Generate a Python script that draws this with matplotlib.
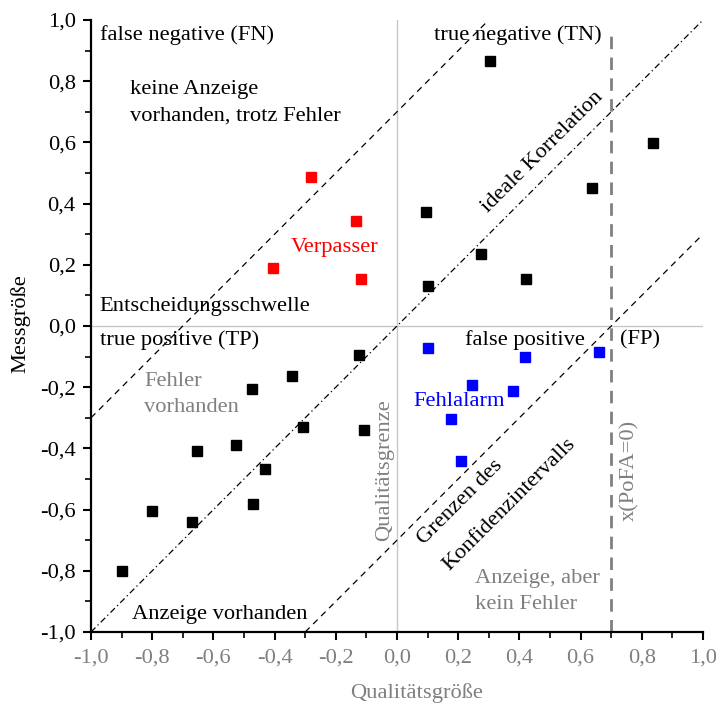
import matplotlib
matplotlib.use("Agg")
import matplotlib.pyplot as plt
import numpy as np
from matplotlib.ticker import MultipleLocator, FuncFormatter

plt.rcParams['font.family'] = ['Liberation Serif', 'DejaVu Serif']

# Data
black_x = [0.304, 0.837, 0.637, 0.095, 0.274, 0.422, 0.100, -0.124, -0.343, -0.474,
           -0.108, -0.307, -0.526, -0.654, -0.431, -0.471, -0.801, -0.670, -0.899]
black_y = [0.866, 0.598, 0.451, 0.373, 0.235, 0.154, 0.131, -0.095, -0.163, -0.206,
           -0.340, -0.330, -0.389, -0.408, -0.467, -0.582, -0.605, -0.641, -0.800]
red_x = [-0.281, -0.134, -0.405, -0.118]
red_y = [0.487, 0.343, 0.190, 0.154]
blue_x = [0.101, 0.418, 0.660, 0.245, 0.379, 0.177, 0.209]
blue_y = [-0.072, -0.101, -0.085, -0.193, -0.212, -0.304, -0.441]

conf_offset = 0.7
pofa_x = 0.7

fig = plt.figure(figsize=(7.18, 7.06), dpi=100)
ax = fig.add_axes([91/718, (706-632)/706, 612/718, 612/706])
ax.set_xlim(-1, 1)
ax.set_ylim(-1, 1)

gray = '#808080'
lgray = '#c8c8c8'

# reference lines
ax.plot([-1, 1], [0, 0], color=lgray, lw=1.0, zorder=1)
ax.plot([0, 0], [-1, 1], color=lgray, lw=1.0, zorder=1)
ax.plot([-1, 1], [-1, 1], color='black', lw=0.9, dashes=(5, 2.5, 1, 2.5), zorder=2)
ax.plot([-1, 1 - conf_offset], [-1 + conf_offset, 1], color='black', lw=0.9, dashes=(5, 4), zorder=2)
ax.plot([-1 + conf_offset, 1], [-1, 1 - conf_offset], color='black', lw=0.9, dashes=(5, 4), zorder=2)
ax.plot([pofa_x, pofa_x], [-1, 0.967], color=gray, lw=2.0, dashes=(4.5, 3), zorder=2)

ms = 7.4
ax.plot(black_x, black_y, 's', color='black', ms=ms, zorder=3, clip_on=False)
ax.plot(red_x, red_y, 's', color='#ff0000', ms=ms, zorder=3)
ax.plot(blue_x, blue_y, 's', color='#0000ff', ms=ms, zorder=3)

fs = 16.2
ls = 1.5
ax.text(-0.971, 0.951, 'false negative (FN)', fontsize=fs, ha='left', va='center')
ax.text(0.121, 0.951, 'true negative (TN)', fontsize=fs, ha='left', va='center')
ax.text(-0.873, 0.729, 'keine Anzeige\nvorhanden, trotz Fehler', fontsize=fs, ha='left', va='center', linespacing=ls)
ax.text(0.477, 0.569, 'ideale Korrelation', fontsize=fs, ha='center', va='center', rotation=45, rotation_mode='anchor')
ax.text(-0.346, 0.255, 'Verpasser', fontsize=fs, ha='left', va='center', color='#ff0000')
ax.text(-0.971, 0.065, 'Entscheidungsschwelle', fontsize=fs, ha='left', va='center')
ax.text(-0.971, -0.046, 'true positive (TP)', fontsize=fs, ha='left', va='center')
ax.text(0.222, -0.046, 'false positive', fontsize=fs, ha='left', va='center')
ax.text(0.729, -0.046, '(FP)', fontsize=fs, ha='left', va='center')
ax.text(-0.827, -0.225, 'Fehler\nvorhanden', fontsize=fs, ha='left', va='center', color=gray, linespacing=ls)
ax.text(0.052, -0.248, 'Fehlalarm', fontsize=fs, ha='left', va='center', color='#0000ff')
ax.text(-0.039, -0.471, 'Qualitätsgrenze', fontsize=fs, ha='center', va='center', rotation=90, color=gray)
ax.text(0.206, -0.575, 'Grenzen des', fontsize=fs, ha='center', va='center', rotation=45, rotation_mode='anchor')
ax.text(0.369, -0.582, 'Konfidenzintervalls', fontsize=fs, ha='center', va='center', rotation=45, rotation_mode='anchor')
ax.text(0.761, -0.471, 'x(PoFA=0)', fontsize=fs, ha='center', va='center', rotation=90, color=gray)
ax.text(0.255, -0.869, 'Anzeige, aber\nkein Fehler', fontsize=fs, ha='left', va='center', color=gray, linespacing=ls)
ax.text(-0.866, -0.944, 'Anzeige vorhanden', fontsize=fs, ha='left', va='center')

# spines
for s in ['top', 'right']:
    ax.spines[s].set_visible(False)
for s in ['left', 'bottom']:
    ax.spines[s].set_linewidth(1.6)

ax.xaxis.set_major_locator(MultipleLocator(0.2))
ax.xaxis.set_minor_locator(MultipleLocator(0.1))
ax.yaxis.set_major_locator(MultipleLocator(0.2))
ax.yaxis.set_minor_locator(MultipleLocator(0.1))
fmt = FuncFormatter(lambda v, p: ('%.1f' % v).replace('.', ',').replace('-0,0', '0,0'))
ax.xaxis.set_major_formatter(fmt)
ax.yaxis.set_major_formatter(fmt)
ax.tick_params(which='major', direction='out', length=6, width=1.5, labelsize=fs)
ax.tick_params(which='minor', direction='out', length=4, width=1.2)
ax.tick_params(axis='x', which='major', labelcolor=gray, pad=6)
ax.tick_params(axis='y', which='major', labelcolor='black', pad=5)

ax.set_xlabel('Qualitätsgröße', fontsize=fs, color=gray, va='center')
ax.set_ylabel('Messgröße', fontsize=fs, color='black', va='center')
ax.xaxis.set_label_coords((417-91)/612, -(693-632)/612)
ax.yaxis.set_label_coords(-(91-20)/612, (632-324)/612)

fig.savefig('out.png', dpi=100)
